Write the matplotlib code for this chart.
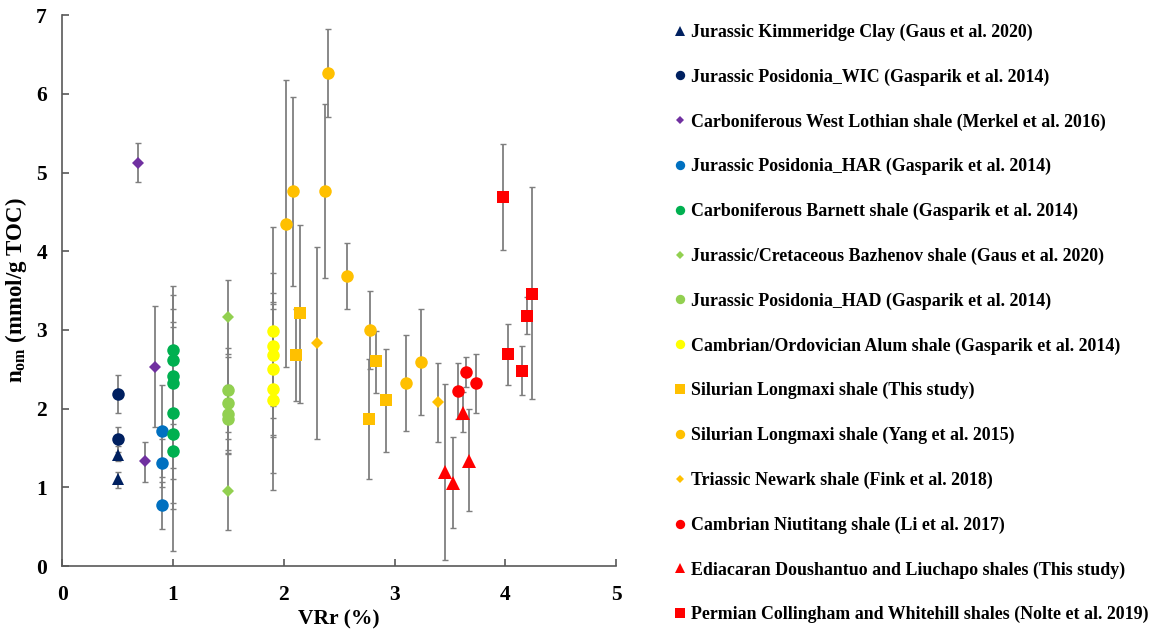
import matplotlib
matplotlib.use('Agg')
import matplotlib.pyplot as plt
from matplotlib.lines import Line2D
import numpy as np

plt.rcParams['font.family'] = 'Liberation Serif'
plt.rcParams['font.weight'] = 'bold'
plt.rcParams['mathtext.fontset'] = 'custom'
plt.rcParams['mathtext.rm'] = 'Liberation Serif:bold'
plt.rcParams['mathtext.it'] = 'Liberation Serif:bold'
plt.rcParams['mathtext.bf'] = 'Liberation Serif:bold'

# each dataset: VRr, n_om, lower / upper end of error bar
kim_x = [0.5, 0.5]
kim_y = [1.41, 1.10]
kim_lo = [1.33, 0.99]
kim_hi = [1.53, 1.19]

wic_x = [0.5, 0.5]
wic_y = [2.19, 1.61]
wic_lo = [1.94, 1.45]
wic_hi = [2.43, 1.77]

wl_x = [0.68, 0.84, 0.75]
wl_y = [5.12, 2.53, 1.33]
wl_lo = [4.88, 1.77, 1.07]
wl_hi = [5.38, 3.30, 1.58]

har_x = [0.9, 0.9, 0.9]
har_y = [1.72, 1.31, 0.77]
har_lo = [1.13, 1.00, 0.47]
har_hi = [2.30, 1.62, 1.07]

bar_x = [1.0, 1.0, 1.0, 1.0, 1.0, 1.0, 1.0]
bar_y = [2.74, 2.62, 2.41, 2.33, 1.95, 1.68, 1.46]
bar_lo = [1.92, 1.80, 1.24, 1.11, 0.80, 0.73, 0.19]
bar_hi = [3.56, 3.44, 3.27, 3.04, 3.10, 2.63, 2.73]

baz_x = [1.5, 1.5]
baz_y = [3.16, 0.95]
baz_lo = [2.69, 0.46]
baz_hi = [3.63, 1.44]

had_x = [1.5, 1.5, 1.5, 1.5]
had_y = [2.24, 2.07, 1.93, 1.87]
had_lo = [1.70, 1.47, 1.62, 1.42]
had_hi = [2.77, 2.66, 2.22, 2.30]

alum_x = [1.9, 1.9, 1.9, 1.9, 1.9, 1.9]
alum_y = [2.99, 2.80, 2.68, 2.50, 2.25, 2.11]
alum_lo = [1.67, 1.88, 2.03, 1.64, 0.97, 1.18]
alum_hi = [4.31, 3.72, 3.33, 3.36, 3.47, 3.27]

lmx_x = [2.15, 2.11, 2.83, 2.92, 2.77]
lmx_y = [3.21, 2.68, 2.60, 2.11, 1.87]
lmx_lo = [2.07, 2.10, 2.20, 1.45, 1.11]
lmx_hi = [4.33, 3.27, 2.99, 2.76, 2.63]

yang_x = [2.40, 2.08, 2.02, 2.37, 2.57, 2.78, 3.10, 3.24]
yang_y = [6.27, 4.77, 4.35, 4.77, 3.69, 3.00, 2.33, 2.59]
yang_lo = [5.71, 3.56, 2.53, 3.66, 3.26, 2.50, 1.71, 1.92]
yang_hi = [6.82, 5.96, 6.17, 5.87, 4.10, 3.49, 2.94, 3.27]

nwk_x = [2.30, 3.39]
nwk_y = [2.83, 2.09]
nwk_lo = [1.61, 1.58]
nwk_hi = [4.05, 2.58]

niu_x = [3.57, 3.64, 3.73]
niu_y = [2.23, 2.46, 2.32]
niu_lo = [1.87, 2.27, 1.95]
niu_hi = [2.58, 2.65, 2.69]

edi_x = [3.45, 3.53, 3.62, 3.67]
edi_y = [1.19, 1.05, 1.95, 1.34]
edi_lo = [0.07, 0.48, 1.70, 0.70]
edi_hi = [2.31, 1.64, 2.21, 1.99]

per_x = [3.98, 4.02, 4.15, 4.19, 4.24]
per_y = [4.69, 2.69, 2.48, 3.18, 3.46]
per_lo = [4.02, 2.30, 2.17, 2.95, 2.12]
per_hi = [5.36, 3.08, 2.79, 3.42, 4.82]

series = [
    ('Jurassic Kimmeridge Clay (Gaus et al. 2020)', kim_x, kim_y, kim_lo, kim_hi, '^', '#002060', 9),
    ('Jurassic Posidonia_WIC (Gasparik et al. 2014)', wic_x, wic_y, wic_lo, wic_hi, 'o', '#002060', 9),
    ('Carboniferous West Lothian shale (Merkel et al. 2016)', wl_x, wl_y, wl_lo, wl_hi, 'D', '#7030A0', 6),
    ('Jurassic Posidonia_HAR (Gasparik et al. 2014)', har_x, har_y, har_lo, har_hi, 'o', '#0070C0', 9),
    ('Carboniferous Barnett shale (Gasparik et al. 2014)', bar_x, bar_y, bar_lo, bar_hi, 'o', '#00B050', 9),
    ('Jurassic/Cretaceous Bazhenov shale (Gaus et al. 2020)', baz_x, baz_y, baz_lo, baz_hi, 'D', '#92D050', 6),
    ('Jurassic Posidonia_HAD (Gasparik et al. 2014)', had_x, had_y, had_lo, had_hi, 'o', '#92D050', 9),
    ('Cambrian/Ordovician Alum shale (Gasparik et al. 2014)', alum_x, alum_y, alum_lo, alum_hi, 'o', '#FFFF00', 9),
    ('Silurian Longmaxi shale (This study)', lmx_x, lmx_y, lmx_lo, lmx_hi, 's', '#FFC000', 9),
    ('Silurian Longmaxi shale (Yang et al. 2015)', yang_x, yang_y, yang_lo, yang_hi, 'o', '#FFC000', 9),
    ('Triassic Newark shale (Fink et al. 2018)', nwk_x, nwk_y, nwk_lo, nwk_hi, 'D', '#FFC000', 6),
    ('Cambrian Niutitang shale (Li et al. 2017)', niu_x, niu_y, niu_lo, niu_hi, 'o', '#FF0000', 9),
    ('Ediacaran Doushantuo and Liuchapo shales (This study)', edi_x, edi_y, edi_lo, edi_hi, '^', '#FF0000', 9.5),
    ('Permian Collingham and Whitehill shales (Nolte et al. 2019)', per_x, per_y, per_lo, per_hi, 's', '#FF0000', 9),
]

fig = plt.figure(figsize=(11.52, 6.31), dpi=100)
ax = fig.add_axes([0.054, 0.103, 0.481, 0.873])

handles = []
for name, x, y, lo, hi, mk, col, ms in series:
    x = np.array(x)
    y = np.array(y)
    yerr = [y - np.array(lo), np.array(hi) - y]
    ax.errorbar(x, y, yerr=yerr, fmt='none', ecolor='#7f7f7f', elinewidth=1.3,
                capsize=2.5, capthick=1.0, zorder=2)
    ax.plot(x, y, linestyle='none', marker=mk, markersize=ms, color=col,
            markeredgewidth=0, zorder=3)
    handles.append(Line2D([], [], linestyle='none', marker=mk, color=col,
                          markeredgewidth=0, markersize=ms * 0.75, label=name))

ax.set_xlim(0, 5)
ax.set_ylim(0, 7)
ax.set_xticks(range(6))
ax.set_yticks(range(8))
for s in ['top', 'right']:
    ax.spines[s].set_visible(False)
for s in ['left', 'bottom']:
    ax.spines[s].set_color('#595959')
    ax.spines[s].set_linewidth(1.2)
ax.tick_params(direction='in', length=5, width=1.2, color='#595959',
               labelsize=15.5)
ax.tick_params(axis='x', pad=14)
ax.tick_params(axis='y', pad=11)
ax.set_xlabel('VRr (%)', fontsize=15.5, fontweight='bold', labelpad=3)
ax.set_ylabel('n$_{\\mathrm{om}}$ (mmol/g TOC)', fontsize=16.5, fontweight='bold', labelpad=5)

fig.legend(handles=handles, loc='upper left', bbox_to_anchor=(0.5785, 0.974),
           frameon=False, fontsize=12.9, labelspacing=1.535, handlelength=0.7,
           handletextpad=0.25, borderaxespad=0)

fig.savefig('out.png', dpi=100)
